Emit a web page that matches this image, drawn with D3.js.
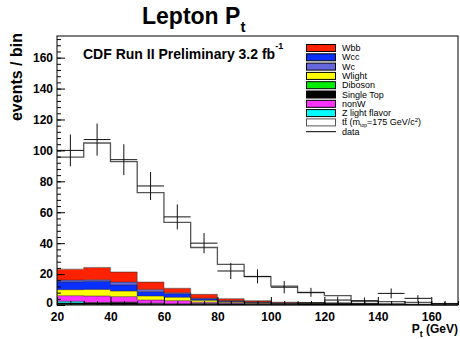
<!DOCTYPE html>
<html>
<head>
<meta charset="utf-8">
<script src="https://cdn.jsdelivr.net/npm/d3@7"></script>
<style>
  body { margin: 0; background: #fff; }
  svg { font-family: "Liberation Sans", Arial, sans-serif; }
</style>
</head>
<body>
<div id="chart"></div>
<script>
// bins of 10 GeV, low edges
const binLow = [20, 30, 40, 50, 60, 70, 80, 90, 100, 110, 120, 130, 140, 150, 160];
const binWidth = 10;

// stacked backgrounds, bottom to top (events / bin)
const diboson   = [0.4, 0.4, 0.1, 0.1, 0.1, 0.1, 0.05, 0.05, 0, 0, 0, 0, 0, 0, 0];
const singleTop = [0.9, 1.0, 1.6, 0.9, 0.5, 0.7, 0.65, 0.45, 0.5, 1.1, 0.9, 0.8, 0.4, 0.3, 0.2];
const zLight    = [1.1, 0.2, 0.1, 0.1, 0.1, 0.1, 0.05, 0.05, 0, 0, 0, 0, 0, 0, 0];
const nonW      = [3.6, 4.2, 3.6, 2.1, 2.1, 0.9, 0.75, 0.45, 0.3, 0.1, 0.1, 0.05, 0.05, 0.02, 0.02];
const wlight    = [3.9, 4.3, 3.6, 2.6, 2.2, 1.2, 0.5, 0.4, 0.2, 0.1, 0.05, 0.05, 0.05, 0.03, 0.02];
const wcc       = [4.9, 5.2, 3.9, 2.8, 2.3, 1.0, 0.5, 0.3, 0.2, 0.1, 0.05, 0.05, 0.02, 0.02, 0.01];
const wc        = [1.3, 1.0, 1.9, 1.5, 0.6, 0.4, 0.3, 0.2, 0.1, 0.05, 0.05, 0.05, 0.03, 0.03, 0.02];
const wbb       = [7.1, 8.0, 6.5, 4.7, 2.9, 2.5, 1.3, 0.9, 0.5, 0.15, 0.15, 0.1, 0.05, 0.05, 0.03];
const ttbar     = [72.5, 80.5, 71.4, 57.9, 42.6, 30.3, 22.2, 15.5, 10.4, 6.4, 4.8, 1.5, 1.6, 1.25, 0.3];

// data points and their errors
const dataCounts = [100, 107, 94, 77, 57, 40, 22, 18.5, 11.5, 8.2, 3.2, 2.7, 7.5, 4.3, 1];
const dataErr    = [10.3, 10.4, 10, 9.1, 8.1, 6.5, 5.2, 4.5, 4, 2.9, 2.2, 2.2, 3.2, 2.1, 1];

const yTicks = [0, 20, 40, 60, 80, 100, 120, 140, 160];
const xTicks = [20, 40, 60, 80, 100, 120, 140, 160];

const stackKeys = ["diboson", "singleTop", "zLight", "nonW", "wlight", "wcc", "wc", "wbb", "ttbar"];
const stackSeries = { diboson, singleTop, zLight, nonW, wlight, wcc, wc, wbb, ttbar };
const fills = {
  diboson: "#00ee00", singleTop: "#000000", zLight: "#00ffff", nonW: "#ff33ff",
  wlight: "#ffff00", wcc: "#0a30ff", wc: "#6666dd", wbb: "#ff2200", ttbar: "#ffffff"
};

const legendNames = ["Wbb", "Wcc", "Wc", "Wlight", "Diboson", "Single Top", "nonW", "Z light flavor", "ttbar", "data"];
const legendKeys  = ["wbb", "wcc", "wc", "wlight", "diboson", "singleTop", "nonW", "zLight", "ttbar", "data"];

const width = 460, height = 339;
const svg = d3.select("#chart").append("svg")
    .attr("width", width)
    .attr("height", height);

const x = d3.scaleLinear().domain([20, 170]).range([57, 458]);
const y = d3.scaleLinear().domain([0, 174]).range([305, 36]);

// build table for d3.stack
const table = binLow.map((lo, i) => {
  const row = { lo: lo };
  stackKeys.forEach(k => row[k] = stackSeries[k][i]);
  return row;
});
const layers = d3.stack().keys(stackKeys)(table);

function stepPoints(layer) {
  const pts = layer.map((d, i) => ({ x: binLow[i], y0: d[0], y1: d[1] }));
  const last = pts[pts.length - 1];
  pts.push({ x: last.x + binWidth, y0: last.y0, y1: last.y1 });
  return pts;
}

const area = d3.area()
    .x(d => x(d.x)).y0(d => y(d.y0)).y1(d => y(d.y1))
    .curve(d3.curveStepAfter);
const topLine = d3.line()
    .x(d => x(d.x)).y(d => y(d.y1))
    .curve(d3.curveStepAfter);

const plot = svg.append("g");

layers.forEach(layer => {
  const pts = stepPoints(layer);
  plot.append("path")
      .attr("d", area(pts))
      .attr("fill", fills[layer.key]);
});
layers.forEach(layer => {
  const pts = stepPoints(layer);
  plot.append("path")
      .attr("d", topLine(pts))
      .attr("fill", "none")
      .attr("stroke", layer.key === "ttbar" ? "#555" : "#222")
      .attr("stroke-width", layer.key === "ttbar" ? 1.3 : 0.7)
      .attr("stroke-opacity", layer.key === "ttbar" ? 1 : 0.75);
});

// data crosses
const dg = plot.append("g").attr("stroke", "#111").attr("stroke-width", 1);
dataCounts.forEach((v, i) => {
  const lo = binLow[i], hi = lo + binWidth, c = lo + binWidth / 2;
  dg.append("line")
      .attr("x1", x(lo)).attr("x2", x(hi))
      .attr("y1", y(v)).attr("y2", y(v));
  dg.append("line")
      .attr("x1", x(c)).attr("x2", x(c))
      .attr("y1", y(v + dataErr[i])).attr("y2", y(Math.max(0, v - dataErr[i])));
});

// frame
svg.append("rect")
    .attr("x", 57).attr("y", 36)
    .attr("width", 401).attr("height", 269)
    .attr("fill", "none")
    .attr("stroke", "#000")
    .attr("stroke-width", 1);

// axes, ticks pointing inward like ROOT
const yAxis = svg.append("g")
    .attr("transform", "translate(57,0)")
    .call(d3.axisLeft(y).tickValues(yTicks).tickSizeInner(-8).tickSizeOuter(0).tickPadding(4));
const yMinor = svg.append("g")
    .attr("transform", "translate(57,0)")
    .call(d3.axisLeft(y).tickValues(d3.range(0, 174, 4)).tickSizeInner(-4).tickSizeOuter(0).tickFormat(""));

const xAxis = svg.append("g")
    .attr("transform", "translate(0,305)")
    .call(d3.axisBottom(x).tickValues(xTicks).tickSizeInner(-8).tickSizeOuter(0).tickPadding(7));
const xMinor = svg.append("g")
    .attr("transform", "translate(0,305)")
    .call(d3.axisBottom(x).tickValues(d3.range(20, 171, 5)).tickSizeInner(-4).tickSizeOuter(0).tickFormat(""));

[yAxis, yMinor, xAxis, xMinor].forEach(g => {
  g.select(".domain").remove();
  g.selectAll("line").attr("stroke", "#000");
  g.selectAll("text")
      .attr("fill", "#000")
      .style("font-family", "Liberation Sans, Arial, sans-serif")
      .style("font-size", "12px")
      .style("font-weight", "bold");
});
// lift the "0" label a touch, as ROOT does
yAxis.selectAll(".tick text").filter(d => d === 0).attr("dy", "0.1em");

// title
const title = svg.append("text")
    .attr("x", 142).attr("y", 24)
    .style("font-size", "23px").style("font-weight", "bold")
    .text("Lepton P");
title.append("tspan").attr("dy", 8).style("font-size", "15px").text("t");

// CDF label
const cdf = svg.append("text")
    .attr("x", 83).attr("y", 59)
    .style("font-size", "14px").style("font-weight", "bold")
    .text("CDF Run II Preliminary 3.2 fb");
cdf.append("tspan").attr("dy", -10).style("font-size", "9px").text("-1");

// axis titles
const xt = svg.append("text")
    .attr("x", 458).attr("y", 333)
    .attr("text-anchor", "end")
    .style("font-size", "12px").style("font-weight", "bold")
    .text("P");
xt.append("tspan").attr("dy", 4).style("font-size", "9px").text("t");
xt.append("tspan").attr("dy", -4).text(" (GeV)");

svg.append("text")
    .attr("transform", "translate(22,33) rotate(-90)")
    .attr("text-anchor", "end")
    .style("font-size", "16px").style("font-weight", "bold")
    .text("events / bin");

// legend
const leg = svg.append("g").attr("transform", "translate(306,48)");
legendKeys.forEach((k, i) => {
  const row = leg.append("g").attr("transform", "translate(0," + (i * 9.3) + ")");
  if (k === "data") {
    row.append("line").attr("x1", 0).attr("x2", 30).attr("y1", 0).attr("y2", 0)
        .attr("stroke", "#000").attr("stroke-width", 1);
  } else {
    row.append("rect")
        .attr("x", 0.5).attr("y", -3.5)
        .attr("width", 29).attr("height", 7)
        .attr("fill", fills[k])
        .attr("stroke", k === "ttbar" ? "#555" : "#000")
        .attr("stroke-width", 1);
  }
  const t = row.append("text")
      .attr("x", 36).attr("y", 3)
      .style("font-size", "9px");
  if (k === "ttbar") {
    t.text("tt\u0304 (m");
    t.append("tspan").attr("dy", 2).style("font-size", "5px").text("top");
    t.append("tspan").attr("dy", -2).text("=175 GeV/c");
    t.append("tspan").attr("dy", -3).style("font-size", "6px").text("2");
    t.append("tspan").attr("dy", 3).text(")");
  } else {
    t.text(legendNames[i]);
  }
});
</script>
</body>
</html>
